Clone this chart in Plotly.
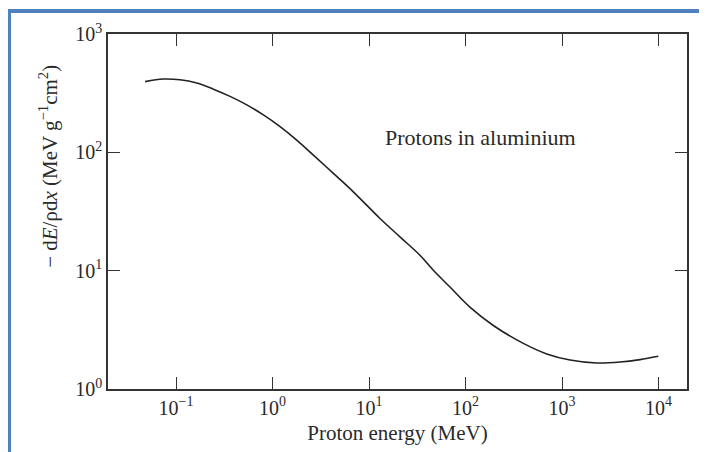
import plotly.graph_objects as go

# Proton energy (MeV) and stopping power -dE/rho dx (MeV g^-1 cm^2)
energy_mev = [0.0478, 0.0738, 0.110, 0.164, 0.244, 0.363, 0.541, 0.804, 1.197, 1.78,
              2.65, 4.27, 6.87, 13.0, 20.9, 33.7, 46.4, 69.0, 111, 194,
              397, 694, 1211, 2290, 3990, 6430, 9950]
stopping_power = [396, 416, 410, 385, 342, 297, 252, 207, 165, 127,
                  94.8, 66.4, 46.4, 27.6, 19.3, 13.5, 10.07, 7.27, 4.92, 3.44,
                  2.43, 1.98, 1.76, 1.66, 1.69, 1.77, 1.89]

x_tickvals = [0.1, 1, 10, 100, 1000, 10000]
x_ticktext = ["10<sup>−1</sup>", "10<sup>0</sup>", "10<sup>1</sup>", "10<sup>2</sup>",
              "10<sup>3</sup>", "10<sup>4</sup>"]
y_tickvals = [1, 10, 100, 1000]
y_ticktext = ["10<sup>0</sup>", "10<sup>1</sup>", "10<sup>2</sup>", "10<sup>3</sup>"]

x_title = "Proton energy (MeV)"
y_title = "− d<i>E</i>/ρd<i>x</i> (MeV g<sup>−1</sup>cm<sup>2</sup>)"
note = "Protons in aluminium"

SERIF = "Liberation Serif, Times New Roman, serif"
INK = "#2a2a2a"

fig = go.Figure()
fig.add_trace(go.Scatter(
    x=energy_mev, y=stopping_power, mode="lines",
    line=dict(color="#222222", width=1.6, shape="spline", smoothing=1.0),
    showlegend=False, hoverinfo="skip"))

axis_common = dict(
    type="log", showline=True, linecolor="#333333", linewidth=1.6, mirror="ticks",
    ticks="inside", ticklen=12, tickwidth=1.4, tickcolor="#333333",
    showgrid=False, zeroline=False, automargin=False,
    tickfont=dict(family=SERIF, size=20, color=INK),
)

fig.update_xaxes(range=[-1.705, 4.295], tickvals=x_tickvals, ticktext=x_ticktext,
                 title=dict(text=x_title, font=dict(family=SERIF, size=21, color=INK), standoff=8),
                 **axis_common)
fig.update_yaxes(range=[0, 3], tickvals=y_tickvals, ticktext=y_ticktext,
                 **axis_common)

fig.add_annotation(text=y_title, textangle=-90, xref="paper", yref="paper",
                   x=-0.104, y=0.628, xanchor="center", yanchor="middle", showarrow=False,
                   font=dict(family=SERIF, size=21, color=INK))
fig.add_annotation(text=note, xref="paper", yref="paper",
                   x=(480 - 108) / 579, y=1 - (137 - 34) / 355,
                   xanchor="center", yanchor="middle", showarrow=False,
                   font=dict(family=SERIF, size=22, color=INK))

# blue page frame of the scanned figure
fig.add_shape(type="rect", xref="paper", yref="paper",
              x0=(9 - 108) / 579, x1=1.2, y0=-0.3, y1=1 + (34 - 11) / 355,
              line=dict(color="#4f81bd", width=4), layer="below")

fig.update_layout(
    width=699, height=444,
    margin=dict(l=100, r=20, t=26, b=63),
    paper_bgcolor="white", plot_bgcolor="white",
)

fig.write_html("out.html")
